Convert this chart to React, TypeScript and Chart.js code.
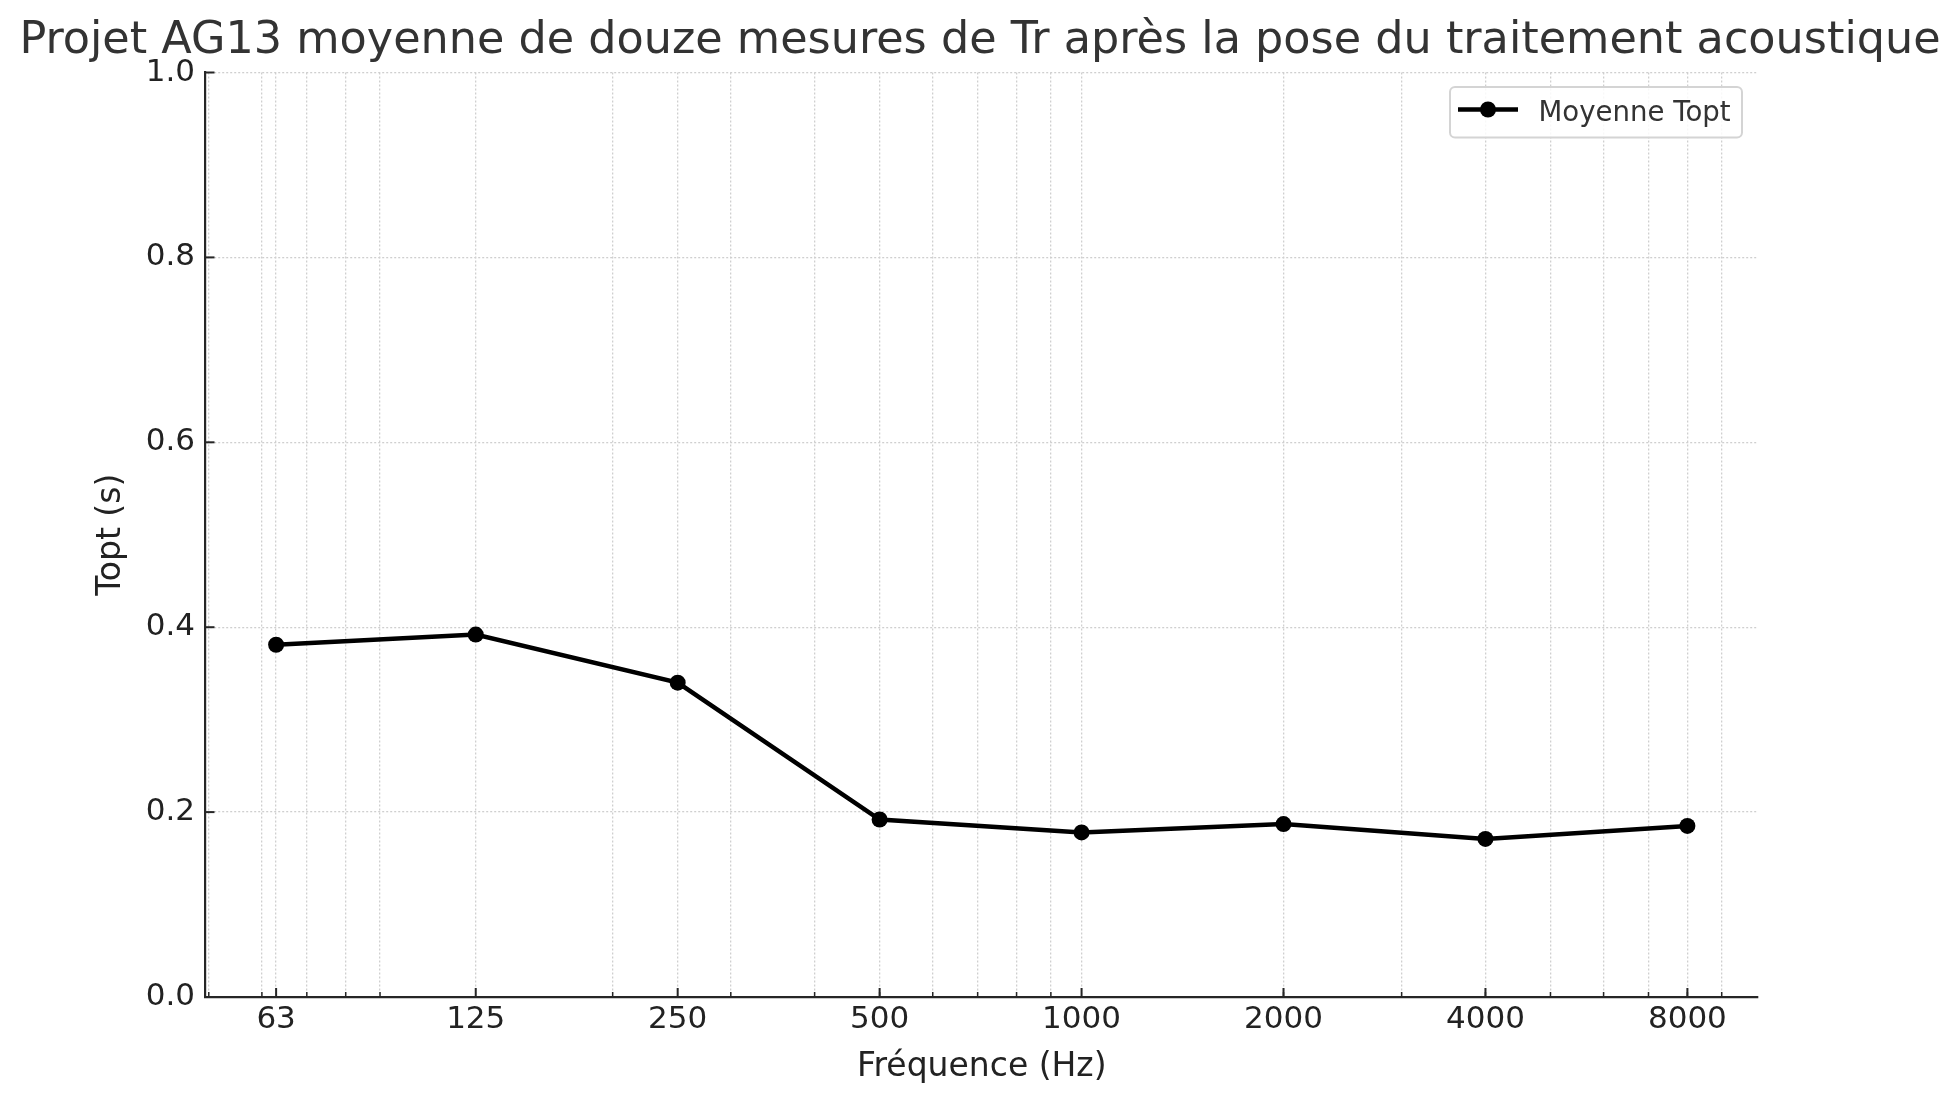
import React, { useEffect, useRef } from 'react';
import { Chart, registerables } from 'chart.js';

Chart.register(...registerables);

// ---- Data ----
const frequencies = [63, 125, 250, 500, 1000, 2000, 4000, 8000];
const toptValues = [0.381, 0.392, 0.34, 0.192, 0.178, 0.187, 0.171, 0.185];
const xMajorTicks = [63, 125, 250, 500, 1000, 2000, 4000, 8000];
const xMinorTicks = [50, 60, 70, 80, 90, 200, 300, 400, 500, 600, 700, 800, 900, 2000, 3000, 4000, 5000, 6000, 7000, 8000, 9000];
const yTicks = [0, 0.2, 0.4, 0.6, 0.8, 1.0];
const xLimits = [49.44, 10194];
const yLimits = [0, 1];
const seriesLabel = 'Moyenne Topt';
const chartTitle = 'Projet AG13 moyenne de douze mesures de Tr après la pose du traitement acoustique';
const xAxisTitle = 'Fréquence (Hz)';
const yAxisTitle = 'Topt (s)';

const FONT = "'DejaVu Sans', sans-serif";
const AXIS_COLOR = '#262626';
const GRID_COLOR = '#cfcfcf';

const allXTicks = Array.from(new Set([...xMajorTicks, ...xMinorTicks])).sort((a, b) => a - b);

const decorPlugin = {
  id: 'decor',
  afterDraw(chart: any) {
    const ctx = chart.ctx as CanvasRenderingContext2D;
    const { left, right, top, bottom } = chart.chartArea;
    const xs = chart.scales.x;
    const ys = chart.scales.y;
    ctx.save();
    ctx.strokeStyle = AXIS_COLOR;
    ctx.lineCap = 'butt';
    // inward minor x ticks
    ctx.lineWidth = 1.5;
    for (const v of xMinorTicks) {
      const px = xs.getPixelForValue(v);
      ctx.beginPath();
      ctx.moveTo(px, bottom);
      ctx.lineTo(px, bottom - 5);
      ctx.stroke();
    }
    // inward major x ticks
    ctx.lineWidth = 2;
    for (const v of xMajorTicks) {
      const px = xs.getPixelForValue(v);
      ctx.beginPath();
      ctx.moveTo(px, bottom);
      ctx.lineTo(px, bottom - 9);
      ctx.stroke();
    }
    // inward y ticks
    for (const v of yTicks) {
      const py = ys.getPixelForValue(v);
      ctx.beginPath();
      ctx.moveTo(left, py);
      ctx.lineTo(left + 9, py);
      ctx.stroke();
    }

    // legend box
    const bx = right - 16 - 292;
    const by = top + 14.5;
    const bw = 292;
    const bh = 50.5;
    const r = 5;
    ctx.beginPath();
    ctx.moveTo(bx + r, by);
    ctx.lineTo(bx + bw - r, by);
    ctx.arcTo(bx + bw, by, bx + bw, by + r, r);
    ctx.lineTo(bx + bw, by + bh - r);
    ctx.arcTo(bx + bw, by + bh, bx + bw - r, by + bh, r);
    ctx.lineTo(bx + r, by + bh);
    ctx.arcTo(bx, by + bh, bx, by + bh - r, r);
    ctx.lineTo(bx, by + r);
    ctx.arcTo(bx, by, bx + r, by, r);
    ctx.closePath();
    ctx.fillStyle = 'rgba(255,255,255,0.85)';
    ctx.fill();
    ctx.strokeStyle = '#d4d4d4';
    ctx.lineWidth = 2;
    ctx.stroke();

    const ly = by + 22.5;
    ctx.strokeStyle = '#000';
    ctx.lineWidth = 4.5;
    ctx.beginPath();
    ctx.moveTo(bx + 8, ly);
    ctx.lineTo(bx + 68, ly);
    ctx.stroke();
    ctx.fillStyle = '#000';
    ctx.beginPath();
    ctx.arc(bx + 38, ly, 8, 0, Math.PI * 2);
    ctx.fill();

    ctx.fillStyle = '#333';
    ctx.font = `27.6px ${FONT}`;
    ctx.textAlign = 'left';
    ctx.textBaseline = 'alphabetic';
    ctx.fillText(seriesLabel, bx + 88.5, by + 33.8);
    ctx.restore();
  },
};

export default function App() {
  const ref = useRef<HTMLCanvasElement>(null);

  useEffect(() => {
    document.body.style.margin = '0';
    const canvas = ref.current;
    if (!canvas) return;
    const chart = new Chart(canvas, {
      type: 'line',
      data: {
        datasets: [
          {
            label: seriesLabel,
            data: frequencies.map((f, i) => ({ x: f, y: toptValues[i] })),
            borderColor: '#000',
            backgroundColor: '#000',
            borderWidth: 4.5,
            pointRadius: 8,
            pointHoverRadius: 8,
            pointBorderWidth: 0,
            pointBackgroundColor: '#000',
            tension: 0,
            fill: false,
          },
        ],
      },
      options: {
        responsive: false,
        devicePixelRatio: 1,
        animation: false,
        events: [],
        layout: { padding: 0 },
        plugins: {
          legend: { display: false },
          tooltip: { enabled: false },
          title: {
            display: true,
            text: chartTitle,
            color: '#333',
            font: { family: FONT, size: 44.5, weight: 'normal' },
            padding: { top: 14.5, bottom: 4.6 },
          },
        },
        scales: {
          x: {
            type: 'logarithmic',
            min: xLimits[0],
            max: xLimits[1],
            bounds: 'data',
            afterBuildTicks: (scale: any) => {
              scale.ticks = allXTicks.map((v) => ({ value: v, major: false }));
            },
            afterFit: (scale: any) => {
              scale.height = 108;
            },
            ticks: {
              autoSkip: false,
              maxRotation: 0,
              minRotation: 0,
              padding: 4.7,
              color: '#222',
              font: { family: FONT, size: 31 },
              callback: (value: any) => (xMajorTicks.includes(Number(value)) ? String(value) : ''),
            },
            grid: {
              display: true,
              drawTicks: false,
              color: GRID_COLOR,
              lineWidth: 1.3,
            },
            border: { display: true, color: AXIS_COLOR, width: 2.2, dash: [2, 2] },
            title: {
              display: true,
              text: xAxisTitle,
              color: '#222',
              font: { family: FONT, size: 33 },
              padding: { top: 0, bottom: 17.3 },
            },
          },
          y: {
            type: 'linear',
            min: yLimits[0],
            max: yLimits[1],
            afterBuildTicks: (scale: any) => {
              scale.ticks = yTicks.map((v) => ({ value: v }));
            },
            afterFit: (scale: any) => {
              scale.width = 205.5;
            },
            ticks: {
              padding: 10.5,
              color: '#222',
              font: { family: FONT, size: 31 },
              callback: (value: any) => Number(value).toFixed(1),
            },
            grid: {
              display: true,
              drawTicks: false,
              color: GRID_COLOR,
              lineWidth: 1.3,
            },
            border: { display: true, color: AXIS_COLOR, width: 2.2, dash: [2, 2] },
            title: {
              display: true,
              text: yAxisTitle,
              color: '#222',
              font: { family: FONT, size: 33 },
              padding: { top: 92.1, bottom: 0 },
            },
          },
          rightSpacer: {
            type: 'linear',
            position: 'right',
            display: true,
            min: 0,
            max: 1,
            afterFit: (scale: any) => {
              scale.width = 202;
            },
            ticks: { display: false },
            grid: { display: false, drawTicks: false },
            border: { display: false },
            title: { display: false },
          },
        },
      },
      plugins: [decorPlugin],
    } as any);
    return () => chart.destroy();
  }, []);

  return (
    <div style={{ position: 'fixed', left: 0, top: 0, width: 1960, height: 1105, background: '#fff' }}>
      <canvas ref={ref} width={1960} height={1105} style={{ display: 'block', width: 1960, height: 1105 }} />
    </div>
  );
}
